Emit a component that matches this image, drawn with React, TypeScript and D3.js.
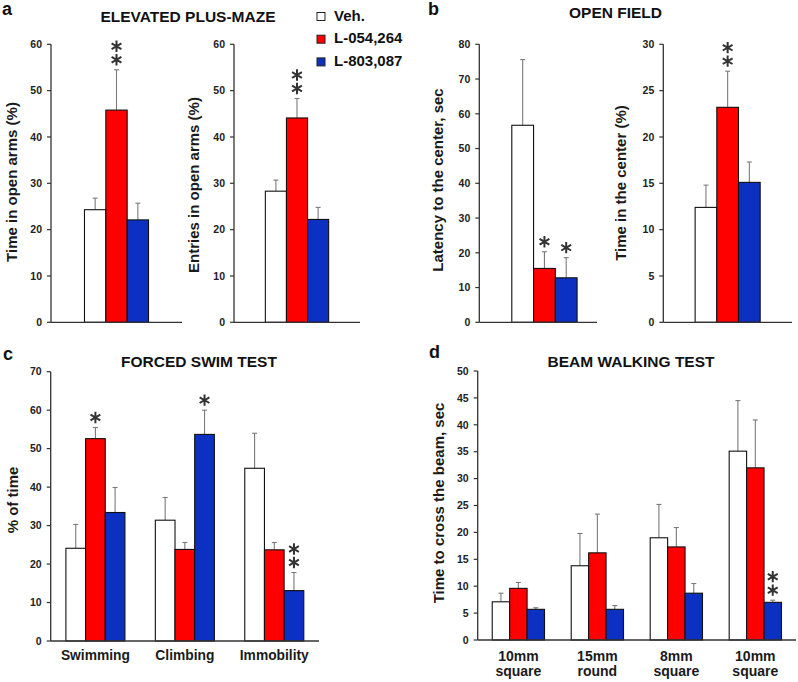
import * as d3 from "d3";

const FONT = "'Liberation Sans', Arial, Helvetica, sans-serif";

const SERIES = ["Veh.", "L-054,264", "L-803,087"];
const FILLS = ["#ffffff", "#ff0000", "#0b30c2"];

// a — elevated plus-maze (one value per group)
const EPM_TIME = [24.3, 45.8, 22.1];
const EPM_TIME_SEM = [2.5, 8.7, 3.6];
const EPM_TIME_STARS = [0, 2, 0];
const EPM_ENTRIES = [28.3, 44.1, 22.2];
const EPM_ENTRIES_SEM = [2.4, 4.2, 2.6];
const EPM_ENTRIES_STARS = [0, 2, 0];

// b — open field
const OF_LATENCY = [56.7, 15.5, 12.8];
const OF_LATENCY_SEM = [18.9, 4.8, 5.8];
const OF_LATENCY_STARS = [0, 1, 1];
const OF_CENTER = [12.4, 23.2, 15.1];
const OF_CENTER_SEM = [2.4, 3.9, 2.2];
const OF_CENTER_STARS = [0, 2, 0];

// c — forced swim test, rows = series, cols = behaviour
const FST_CATS = ["Swimming", "Climbing", "Immobility"];
const FST_MEAN = [
  [24.1, 31.4, 44.9],
  [52.6, 23.8, 23.7],
  [33.4, 53.7, 13.1],
];
const FST_SEM = [
  [6.2, 5.9, 9.1],
  [2.9, 1.8, 1.9],
  [6.5, 6.3, 4.7],
];
const FST_STARS = [
  [0, 0, 0],
  [1, 0, 0],
  [0, 1, 2],
];

// d — beam walking
const BEAM_CATS = [
  ["10mm", "square"],
  ["15mm", "round"],
  ["8mm", "square"],
  ["10mm", "square"],
];
const BEAM_MEAN = [
  [7.1, 13.8, 19.0, 35.1],
  [9.6, 16.2, 17.3, 32.0],
  [5.7, 5.7, 8.7, 7.0],
];
const BEAM_SEM = [
  [1.6, 6.0, 6.2, 9.4],
  [1.1, 7.2, 3.6, 8.9],
  [0.3, 0.7, 1.8, 0.4],
];
const BEAM_STARS = [
  [0, 0, 0, 0],
  [0, 0, 0, 0],
  [0, 0, 0, 2],
];

const single = (a: number[]) => a.map((v) => [v]);

interface PanelCfg {
  labels: string[][];
  mean: number[][];
  sem: number[][];
  stars: number[][];
  yMax: number;
  yStep: number;
  x0: number;
  x1: number;
  yBot: number;
  yTop: number;
  padIn: number;
  padOut: number;
  align?: number;
  yLabel: string;
  labelX: number;
  labelY: number;
  catSize?: number;
  catY?: number;
  catGap?: number;
}

const PANELS: PanelCfg[] = [
  {
    labels: [[]], mean: single(EPM_TIME), sem: single(EPM_TIME_SEM), stars: single(EPM_TIME_STARS),
    yMax: 60, yStep: 10, x0: 51, x1: 182, yBot: 322.3, yTop: 44.3, padIn: 0.34, padOut: 0.345,
    yLabel: "Time in open arms (%)", labelX: 11, labelY: 182,
  },
  {
    labels: [[]], mean: single(EPM_ENTRIES), sem: single(EPM_ENTRIES_SEM), stars: single(EPM_ENTRIES_STARS),
    yMax: 60, yStep: 10, x0: 234, x1: 360, yBot: 322.3, yTop: 44.3, padIn: 0.34, padOut: 0.327,
    yLabel: "Entries in open arms (%)", labelX: 193, labelY: 185,
  },
  {
    labels: [[]], mean: single(OF_LATENCY), sem: single(OF_LATENCY_SEM), stars: single(OF_LATENCY_STARS),
    yMax: 80, yStep: 10, x0: 479.3, x1: 597, yBot: 322.3, yTop: 44.3, padIn: 0.34, padOut: 0.265, align: 0.62,
    yLabel: "Latency to the center, sec", labelX: 437, labelY: 180,
  },
  {
    labels: [[]], mean: single(OF_CENTER), sem: single(OF_CENTER_SEM), stars: single(OF_CENTER_STARS),
    yMax: 30, yStep: 5, x0: 663.3, x1: 792, yBot: 322.3, yTop: 44.3, padIn: 0.34, padOut: 0.323,
    yLabel: "Time in the center (%)", labelX: 620, labelY: 183,
  },
  {
    labels: FST_CATS.map((c) => [c]), mean: FST_MEAN, sem: FST_SEM, stars: FST_STARS,
    yMax: 70, yStep: 10, x0: 50.7, x1: 319, yBot: 641, yTop: 371.7, padIn: 0.34, padOut: 0.17,
    yLabel: "% of time", labelX: 12, labelY: 500, catSize: 13.8, catY: 660,
  },
  {
    labels: BEAM_CATS, mean: BEAM_MEAN, sem: BEAM_SEM, stars: BEAM_STARS,
    yMax: 50, yStep: 5, x0: 477.7, x1: 796, yBot: 640, yTop: 371, padIn: 0.338, padOut: 0.184,
    yLabel: "Time to cross the beam, sec", labelX: 438, labelY: 503, catSize: 14, catY: 660.5, catGap: 15,
  },
];

const starPath =
  d3.symbol().type((d3 as any).symbolAsterisk ?? d3.symbolCross).size(90)() ?? "";

function BarPanel({ p }: { p: PanelCfg }) {
  const y = d3.scaleLinear().domain([0, p.yMax]).range([p.yBot, p.yTop]);
  const keys = p.labels.map((_, i) => String(i));
  const x = d3
    .scaleBand()
    .domain(keys)
    .range([p.x0, p.x1])
    .paddingInner(p.padIn)
    .paddingOuter(p.padOut)
    .align(p.align ?? 0.5);
  const xs = d3.scaleBand().domain(SERIES).range([0, x.bandwidth()]);
  const ticks = d3.range(0, p.yMax + 1e-6, p.yStep);

  return (
    <g>
      {/* bars, error bars, stars */}
      {keys.map((k, ci) => (
        <g key={k} transform={`translate(${x(k)},0)`}>
          {SERIES.map((s, si) => {
            const v = p.mean[si][ci];
            const e = p.sem[si][ci];
            const bx = xs(s)!;
            const cx = bx + xs.bandwidth() / 2;
            const top = y(v + e);
            return (
              <g key={s}>
                <line x1={cx} x2={cx} y1={y(v)} y2={top} stroke="#7a7a7a" strokeWidth={1.1} />
                <line x1={cx - 2.5} x2={cx + 2.5} y1={top} y2={top} stroke="#7a7a7a" strokeWidth={1.1} />
                <rect
                  x={bx}
                  y={y(v)}
                  width={xs.bandwidth()}
                  height={y(0) - y(v)}
                  fill={FILLS[si]}
                  stroke="#111"
                  strokeWidth={1.1}
                />
                {d3.range(p.stars[si][ci]).map((n) => (
                  <path
                    key={n}
                    d={starPath}
                    transform={`translate(${cx},${top - 10 - n * 13.5})`}
                    fill="none"
                    stroke="#333"
                    strokeWidth={2}
                  />
                ))}
              </g>
            );
          })}
        </g>
      ))}

      {/* axes */}
      <line x1={p.x0} x2={p.x0} y1={y(0)} y2={y(p.yMax)} stroke="#333" strokeWidth={1.3} />
      <line x1={p.x0} x2={p.x1} y1={y(0)} y2={y(0)} stroke="#333" strokeWidth={1.3} />
      {ticks.map((t) => (
        <g key={t}>
          <line x1={p.x0 - 4} x2={p.x0} y1={y(t)} y2={y(t)} stroke="#333" strokeWidth={1.2} />
          <text
            x={p.x0 - 9}
            y={y(t)}
            dy="0.36em"
            textAnchor="end"
            fontSize={10.5}
            fontWeight="bold"
            fill="#222"
          >
            {t}
          </text>
        </g>
      ))}

      {/* category labels */}
      {keys.map((k, ci) =>
        p.labels[ci].map((line, li) => (
          <text
            key={`${k}-${li}`}
            x={x(k)! + x.bandwidth() / 2}
            y={(p.catY ?? 0) + li * (p.catGap ?? 14)}
            textAnchor="middle"
            fontSize={p.catSize}
            fontWeight="bold"
            fill="#1a1a1a"
          >
            {line}
          </text>
        )),
      )}

      <text
        transform={`translate(${p.labelX},${p.labelY}) rotate(-90)`}
        textAnchor="middle"
        dominantBaseline="central"
        fontSize={15}
        fontWeight="bold"
        fill="#1a1a1a"
      >
        {p.yLabel}
      </text>
    </g>
  );
}

export default function App() {
  return (
    <svg
      width={798}
      height={682}
      style={{ position: "absolute", left: 0, top: 0, background: "#fff" }}
      fontFamily={FONT}
    >
      <rect width={798} height={682} fill="#fff" />

      {/* panel letters and titles */}
      <g fontWeight="bold" fill="#111">
        <text x={2} y={15} fontSize={18}>a</text>
        <text x={428} y={15} fontSize={18}>b</text>
        <text x={3} y={360} fontSize={18}>c</text>
        <text x={429} y={358} fontSize={18}>d</text>
        <text x={188} y={21.5} fontSize={15.5} textAnchor="middle">ELEVATED PLUS-MAZE</text>
        <text x={615.5} y={17.5} fontSize={15.5} textAnchor="middle">OPEN FIELD</text>
        <text x={199} y={366.5} fontSize={15.5} textAnchor="middle">FORCED SWIM TEST</text>
        <text x={631} y={367} fontSize={15.5} textAnchor="middle">BEAM WALKING TEST</text>
      </g>

      {/* legend */}
      {SERIES.map((s, i) => (
        <g key={s} transform={`translate(317,${12.5 + i * 22.7})`}>
          <rect width={8} height={8} fill={FILLS[i]} stroke="#222" strokeWidth={1} />
          <text x={17} y={8.2} fontSize={15} fontWeight="bold" fill="#111">
            {s}
          </text>
        </g>
      ))}

      {PANELS.map((p, i) => (
        <BarPanel key={i} p={p} />
      ))}
    </svg>
  );
}
